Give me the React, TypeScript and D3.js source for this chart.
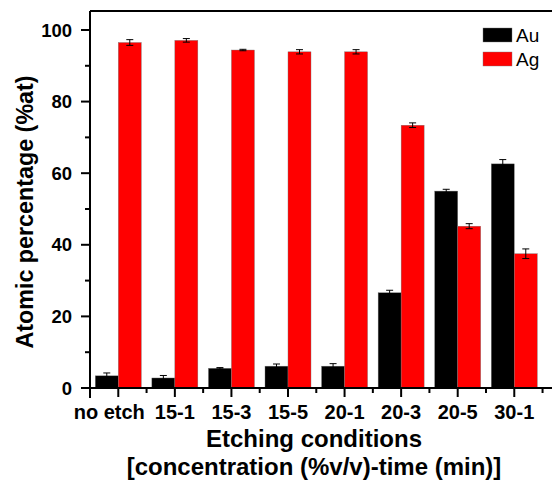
import * as d3 from "d3";

// Etching conditions (x categories)
const conditions = ["no etch", "15-1", "15-3", "15-5", "20-1", "20-3", "20-5", "30-1"];
// Atomic percentages
const auValues = [3.4, 2.8, 5.5, 6.1, 6.1, 26.6, 55.0, 62.6];
const auErrors = [0.8, 0.7, 0.2, 0.6, 0.7, 0.7, 0.5, 1.2];
const agValues = [96.5, 97.1, 94.4, 93.9, 93.9, 73.4, 45.2, 37.5];
const agErrors = [0.8, 0.5, 0.2, 0.6, 0.6, 0.65, 0.7, 1.35];
const yTicks = [0, 20, 40, 60, 80, 100];
const yMinorTicks = [10, 30, 50, 70, 90];

const series = [
  {name: "Au", color: "#000000", values: auValues, errors: auErrors},
  {name: "Ag", color: "#ff0000", values: agValues, errors: agErrors},
];

const width = 552, height = 481;
const margin = {top: 11, left: 90, bottom: 93};
const font = "'Liberation Sans', Arial, sans-serif";

function App() {
  const x = d3.scaleBand()
    .domain(conditions)
    .range([margin.left, margin.left + 8 * 56.57])
    .padding(0);

  const xSub = d3.scaleBand()
    .domain(series.map(s => s.name))
    .range([0, x.bandwidth()])
    .paddingInner(0)
    .paddingOuter(0.23);

  const y = d3.scaleLinear()
    .domain([0, 105.3])
    .range([height - margin.bottom, margin.top]);

  const y0 = y(0);

  return (
    <svg width={width} height={height} style={{position: "absolute", left: 0, top: 0, background: "#fff"}}
         fontFamily={font}>
      {/* bars */}
      {series.map(s => (
        <g key={s.name}>
          {conditions.map((c, i) => {
            const bx = (x(c) as number) + (xSub(s.name) as number);
            const bw = xSub.bandwidth();
            const v = s.values[i], e = s.errors[i];
            const cx = bx + bw / 2;
            return (
              <g key={c}>
                <rect x={bx} y={y(v)} width={bw} height={y0 - y(v)} fill={s.color}
                      stroke="#777" strokeWidth={0.4} />
                <line x1={cx} x2={cx} y1={y(v + e)} y2={y(v - e)} stroke="#000" strokeWidth={1} />
                <line x1={cx - 3.5} x2={cx + 3.5} y1={y(v + e)} y2={y(v + e)} stroke="#000" strokeWidth={1} />
                <line x1={cx - 3.5} x2={cx + 3.5} y1={y(v - e)} y2={y(v - e)} stroke="#000" strokeWidth={1} />
              </g>
            );
          })}
        </g>
      ))}

      {/* frame: top line and axes */}
      <line x1={margin.left} x2={width} y1={margin.top} y2={margin.top} stroke="#000" strokeWidth={2} />
      <line x1={margin.left} x2={margin.left} y1={margin.top} y2={y0 + 10} stroke="#000" strokeWidth={2} />
      <line x1={margin.left} x2={width} y1={y0} y2={y0} stroke="#000" strokeWidth={2} />

      {/* y ticks */}
      {yTicks.map(t => (
        <g key={t}>
          <line x1={margin.left - 9} x2={margin.left} y1={y(t)} y2={y(t)} stroke="#000" strokeWidth={2} />
          <text x={margin.left - 18} y={y(t)} dy="0.36em" textAnchor="end" fontSize={18.5}
                fontWeight="bold">{t}</text>
        </g>
      ))}
      {yMinorTicks.map(t => (
        <line key={t} x1={margin.left - 5} x2={margin.left} y1={y(t)} y2={y(t)} stroke="#000" strokeWidth={2} />
      ))}

      {/* x ticks */}
      {conditions.map((c, i) => {
        const cx = (x(c) as number) + x.bandwidth() / 2;
        // the long first label is nudged left so it doesn't run into the next one
        const dx = i === 0 ? -9 : 0;
        return (
          <g key={c}>
            <line x1={cx} x2={cx} y1={y0} y2={y0 + 9} stroke="#000" strokeWidth={2} />
            <line x1={(x(c) as number) + x.bandwidth()} x2={(x(c) as number) + x.bandwidth()}
                  y1={y0} y2={y0 + 5} stroke="#000" strokeWidth={2} />
            <text x={cx + dx} y={y0 + 31} textAnchor="middle" fontSize={20} fontWeight="bold">{c}</text>
          </g>
        );
      })}

      {/* axis titles */}
      <text x={314} y={447} textAnchor="middle" fontSize={24} fontWeight="bold">Etching conditions</text>
      <text x={314} y={475} textAnchor="middle" fontSize={24} fontWeight="bold">[concentration (%v/v)-time (min)]</text>
      <text transform={`translate(33,212) rotate(-90)`} textAnchor="middle" fontSize={23.3}
            fontWeight="bold">Atomic percentage (%at)</text>

      {/* legend */}
      {series.map((s, i) => (
        <g key={s.name} transform={`translate(483,${28 + i * 24})`}>
          <rect width={29} height={14} fill={s.color} stroke="#777" strokeWidth={0.4} />
          <text x={33} y={14} fontSize={19}>{s.name}</text>
        </g>
      ))}
    </svg>
  );
}

export default App;
